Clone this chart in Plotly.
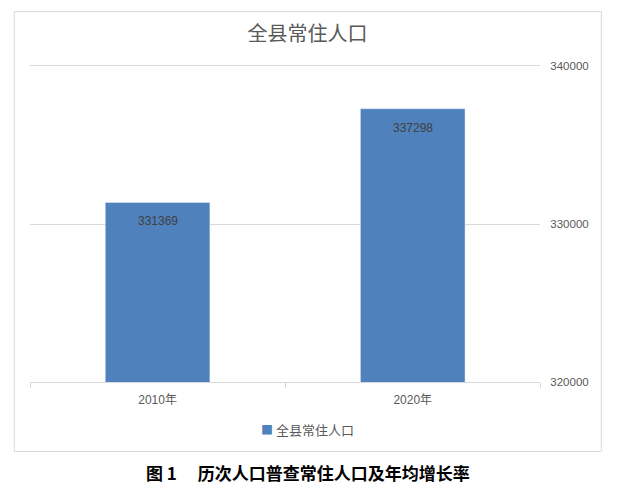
import plotly.graph_objects as go

# data
years = ["2010年", "2020年"]
population = [331369, 337298]
series_name = "全县常住人口"
y_ticks = [320000, 330000, 340000]

# page has an 8px body margin, so the figure is a bit smaller than the window
OFF = 8
W, H = 617 - OFF, 492 - OFF


def px_x(p):
    return (p - OFF) / W


def px_y(p):
    return 1 - (p - OFF) / H


font_family = "Liberation Sans, Noto Sans CJK SC, sans-serif"
cjk_family = "Noto Sans CJK SC, sans-serif"
bar_color = "#4f81bd"
grid_color = "#d9d9d9"
text_gray = "#595959"

# a little headroom above the top tick so its gridline is drawn
pad = 200
y_top_px = 66.0 - pad * (382.3 - 66.0) / (y_ticks[-1] - y_ticks[0])

fig = go.Figure()
fig.add_trace(go.Bar(
    x=years,
    y=population,
    name=series_name,
    marker_color=bar_color,
    width=0.41,
    showlegend=False,
))

# value labels just under the bar tops
for yr, val in zip(years, population):
    fig.add_annotation(
        x=yr, y=val, xref="x", yref="y",
        text=str(val), showarrow=False,
        yanchor="top", yshift=-10,
        font=dict(size=12, color="#404040", family=font_family),
    )

# legend entry (square + series name)
fig.add_annotation(
    x=px_x(307), y=px_y(429), xref="paper", yref="paper",
    text="<span style='color:%s;font-size:12px'>■</span> %s" % (bar_color, series_name),
    showarrow=False, xanchor="center", yanchor="middle",
    font=dict(size=13, color=text_gray, family=cjk_family),
)

# caption under the chart frame
fig.add_annotation(
    x=px_x(308), y=px_y(472.5), xref="paper", yref="paper",
    text="<b>图 1\u3000 历次人口普查常住人口及年均增长率</b>",
    showarrow=False, xanchor="center", yanchor="middle",
    font=dict(size=17, color="#000000", family=cjk_family),
)

# chart frame
fig.add_shape(
    type="rect", xref="paper", yref="paper",
    x0=px_x(14.3), x1=px_x(601.3), y0=px_y(451.5), y1=px_y(11.7),
    line=dict(color=grid_color, width=1), fillcolor="rgba(0,0,0,0)",
    layer="below",
)

fig.update_layout(
    width=W, height=H,
    margin=dict(l=0, r=0, t=0, b=0),
    paper_bgcolor="white",
    plot_bgcolor="white",
    font=dict(family=font_family, color=text_gray),
    showlegend=False,
    title=dict(
        text=series_name, x=px_x(307.5), xanchor="center",
        y=px_y(34), yanchor="middle",
        font=dict(size=20, color=text_gray, family=cjk_family),
    ),
    xaxis=dict(
        domain=[px_x(30), px_x(540.3)],
        automargin=False,
        showline=True, linecolor=grid_color, linewidth=1,
        ticks="outside", tickson="boundaries", ticklen=5, tickcolor=grid_color,
        ticklabelstandoff=6,
        tickfont=dict(size=12, color=text_gray),
        showgrid=False,
    ),
    yaxis=dict(
        domain=[px_y(382.3), px_y(y_top_px)],
        automargin=False,
        side="right",
        range=[y_ticks[0], y_ticks[-1] + pad],
        tickvals=y_ticks,
        ticktext=[str(v) for v in y_ticks],
        showgrid=True, gridcolor=grid_color, gridwidth=1,
        zeroline=False, showline=False,
        ticks="", ticklabelstandoff=9,
        tickfont=dict(size=11.5, color=text_gray),
    ),
)

fig.write_html("out.html")
